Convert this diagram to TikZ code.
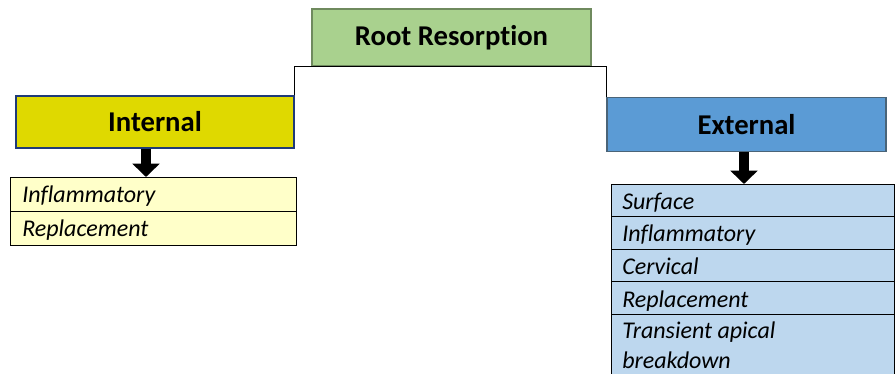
\documentclass[tikz,border=0pt]{standalone}
\usepackage{fontspec}
\setmainfont{Carlito}[Ligatures=NoCommon]
\usetikzlibrary{arrows.meta}
\definecolor{rootfill}{HTML}{A9D18E}
\definecolor{rootline}{HTML}{6F8A5E}
\definecolor{intfill}{HTML}{DFD900}
\definecolor{intline}{HTML}{1F3A78}
\definecolor{extfill}{HTML}{5B9BD5}
\definecolor{extline}{HTML}{4A6478}
\definecolor{ilistfill}{HTML}{FFFFC9}
\definecolor{elistfill}{HTML}{BDD7EE}
\tikzset{
  headbox/.style={draw, line width=1.1pt, inner sep=0pt, font=\fontsize{21.5}{26}\selectfont\bfseries},
  blockarrow/.style={line width=8pt, -{Triangle[width=20pt,length=10pt]}},
  rowtext/.style={anchor=base west, inner sep=0pt, font=\fontsize{18}{22.5}\selectfont\itshape},
  listline/.style={line width=0.7pt},
}
\begin{document}
\begin{tikzpicture}[x=0.75pt,y=-0.75pt]
\useasboundingbox (0,0) rectangle (896,374);
\clip (0,0) rectangle (896,374);
% heads
\node[headbox, draw=rootline, fill=rootfill, minimum width=279*0.75pt, minimum height=57*0.75pt] (root) at (451.5,37.5) {Root Resorpt\kern0pt ion};
\node[headbox, draw=intline, fill=intfill, minimum width=278*0.75pt, minimum height=52*0.75pt] (int) at (155,122) {Internal};
\node[headbox, draw=extline, fill=extfill, minimum width=279*0.75pt, minimum height=54*0.75pt] (ext) at (746.5,124.5) {External};
% connector
\draw[line width=1pt] (int.north east) |- (root.south) -| (ext.north west);
% internal list
\draw[listline, fill=ilistfill] (10,177) rectangle (296,245);
\draw[listline] (10,211) -- (296,211);
\coordinate (ilisttop) at (146,177);
\node[rowtext] (i1) at (22,203) {Inflammatory};
\node[rowtext] (i2) at (22,237) {Replacement};
% external list
\draw[listline, fill=elistfill] (611,184) rectangle (894,390);
\foreach \y in {216.5,249,281.5,314} \draw[listline] (611,\y) -- (894,\y);
\coordinate (elisttop) at (744,184);
\node[rowtext] (e1) at (622,209.5) {Surface};
\node[rowtext] (e2) at (622,242) {Inflammatory};
\node[rowtext] (e3) at (622,274.5) {Cervical};
\node[rowtext] (e4) at (622,307) {Replacement};
\node[rowtext] (e5) at (622,338) {Transient apical};
\node[rowtext] (e6) at (622,368) {breakdown};
% block arrows
\coordinate (ia) at (146,149);
\coordinate (ea) at (744,152.5);
\draw[blockarrow] (ia) -- (ilisttop);
\draw[blockarrow] (ea) -- (elisttop);
\end{tikzpicture}
\end{document}
